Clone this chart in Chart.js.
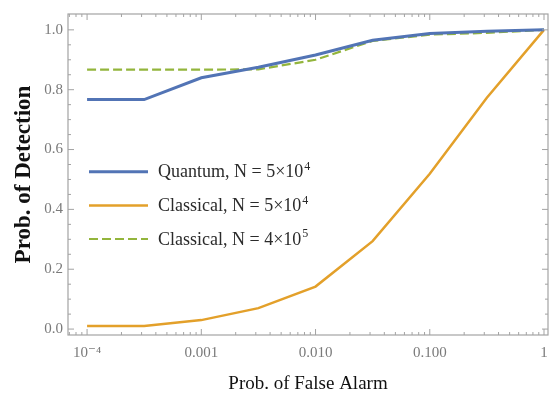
<!DOCTYPE html>
<html>
<head>
<meta charset="utf-8">
<script src="https://cdn.jsdelivr.net/npm/chart.js@4"></script>
<style>
  html, body { margin: 0; padding: 0; background: #fff; }
  #wrap { width: 551px; height: 398px; }
</style>
</head>
<body>
<div id="wrap"><canvas id="roc" width="551" height="398"></canvas></div>
<script>
/* ===== Data ===== */
const falseAlarm = [1e-4, 3.16e-4, 1e-3, 3.16e-3, 1e-2, 3.16e-2, 0.1, 0.316, 1];
const quantum5e4 = [0.767, 0.767, 0.84, 0.875, 0.916, 0.965, 0.988, 0.995, 1.0];
const classical5e4 = [0.01, 0.01, 0.03, 0.07, 0.142, 0.294, 0.519, 0.773, 1.0];
const classical4e5 = [0.867, 0.867, 0.867, 0.868, 0.9, 0.963, 0.984, 0.99, 1.0];

const xTickLabels = { "-4": "10\u207B\u2074", "-3": "0.001", "-2": "0.010", "-1": "0.100", "0": "1" };
const yTickLabels = ["0.0", "0.2", "0.4", "0.6", "0.8", "1.0"];

const legendItems = [
  { base: "Quantum, N = 5\u00D710", sup: "4" },
  { base: "Classical, N = 5\u00D710", sup: "4" },
  { base: "Classical, N = 4\u00D710", sup: "5" },
];

const BLUE = "#5274b5";
const ORANGE = "#e3a02a";
const GREEN = "#93b53c";
const FRAME = "#a3a3a3";
const SERIF = "'Liberation Serif', 'DejaVu Serif', serif";

function pts(ys) {
  return falseAlarm.map((x, i) => ({ x, y: ys[i] }));
}

/* ===== Frame, inward ticks, legend ===== */
const framePlugin = {
  id: "frame",
  afterDatasetsDraw(chart) {
    const { ctx, chartArea: a, scales } = chart;
    const xs = scales.x, ys = scales.y;
    ctx.save();
    ctx.strokeStyle = FRAME;
    ctx.lineWidth = 1.2;
    ctx.strokeRect(a.left, a.top, a.right - a.left, a.bottom - a.top);

    ctx.lineWidth = 1;
    // x ticks (log): major at decades, minor at 2..9
    for (let d = -5; d <= 0; d++) {
      for (let m = 1; m <= 9; m++) {
        const v = m * Math.pow(10, d);
        const px = xs.getPixelForValue(v);
        if (px < a.left + 1 || px > a.right - 1) continue;
        const len = m === 1 ? 6 : 3;
        ctx.beginPath();
        ctx.moveTo(px, a.bottom); ctx.lineTo(px, a.bottom - len);
        ctx.moveTo(px, a.top); ctx.lineTo(px, a.top + len);
        ctx.stroke();
      }
    }
    // y ticks: major every 0.2, minor every 0.05
    for (let k = 0; k <= 21; k++) {
      const v = k * 0.05;
      const py = ys.getPixelForValue(v);
      if (py < a.top + 1 || py > a.bottom - 1) continue;
      const len = k % 4 === 0 ? 6 : 3;
      ctx.beginPath();
      ctx.moveTo(a.left, py); ctx.lineTo(a.left + len, py);
      ctx.moveTo(a.right, py); ctx.lineTo(a.right - len, py);
      ctx.stroke();
    }

    // legend inside plot
    const rowY = [ys.getPixelForValue(0.526), ys.getPixelForValue(0.413), ys.getPixelForValue(0.301)];
    chart.data.datasets.forEach((ds, i) => {
      const y = rowY[i];
      ctx.strokeStyle = ds.borderColor;
      ctx.lineWidth = ds.borderWidth;
      ctx.setLineDash(ds.borderDash || []);
      ctx.beginPath();
      ctx.moveTo(89, y); ctx.lineTo(148, y);
      ctx.stroke();
      ctx.setLineDash([]);

      const item = legendItems[i];
      ctx.fillStyle = "#2b2b2b";
      ctx.textBaseline = "middle";
      ctx.textAlign = "left";
      ctx.font = "18px " + SERIF;
      ctx.fillText(item.base, 158, y + 1);
      const w = ctx.measureText(item.base).width;
      ctx.font = "12px " + SERIF;
      ctx.fillText(item.sup, 158 + w + 1, y - 5);
    });
    ctx.restore();
  },
};

/* ===== Chart ===== */
new Chart(document.getElementById("roc"), {
  type: "line",
  data: {
    datasets: [
      { label: "Quantum", data: pts(quantum5e4), borderColor: BLUE, borderWidth: 3, pointRadius: 0, tension: 0 },
      { label: "Classical 5e4", data: pts(classical5e4), borderColor: ORANGE, borderWidth: 2.5, pointRadius: 0, tension: 0 },
      { label: "Classical 4e5", data: pts(classical4e5), borderColor: GREEN, borderWidth: 2.2, borderDash: [9, 4], pointRadius: 0, tension: 0 },
    ],
  },
  options: {
    responsive: false,
    animation: false,
    layout: { padding: { top: 11, right: 3, left: 0, bottom: 0 } },
    plugins: { legend: { display: false }, tooltip: { enabled: false } },
    scales: {
      x: {
        type: "logarithmic",
        min: Math.pow(10, -4.167),
        max: Math.pow(10, 0.035),
        afterBuildTicks(scale) {
          scale.ticks = Object.keys(xTickLabels).map((e) => ({ value: Math.pow(10, Number(e)) }));
        },
        afterFit(scale) { scale.height = 63; },
        grid: { display: false, drawTicks: false },
        border: { display: false },
        ticks: {
          autoSkip: false,
          maxRotation: 0,
          padding: 9,
          color: "#7a7a7a",
          font: { family: SERIF, size: 15 },
          callback: (v) => xTickLabels[String(Math.round(Math.log10(v)))],
        },
        title: {
          display: true,
          text: "Prob. of False Alarm",
          color: "#111",
          font: { family: SERIF, size: 19 },
          padding: { top: 0, bottom: 3 },
        },
      },
      y: {
        min: -0.0198,
        max: 1.053,
        afterBuildTicks(scale) {
          scale.ticks = yTickLabels.map((t) => ({ value: Number(t) }));
        },
        afterFit(scale) { scale.width = 68; },
        grid: { display: false, drawTicks: false },
        border: { display: false },
        ticks: {
          padding: 5,
          color: "#7a7a7a",
          font: { family: SERIF, size: 15 },
          callback: (v) => Number(v).toFixed(1),
        },
        title: {
          display: true,
          text: "Prob. of Detection",
          color: "#111",
          font: { family: SERIF, size: 23, weight: "bold" },
          padding: { top: 10, bottom: 0 },
        },
      },
    },
  },
  plugins: [framePlugin],
});
</script>
</body>
</html>
